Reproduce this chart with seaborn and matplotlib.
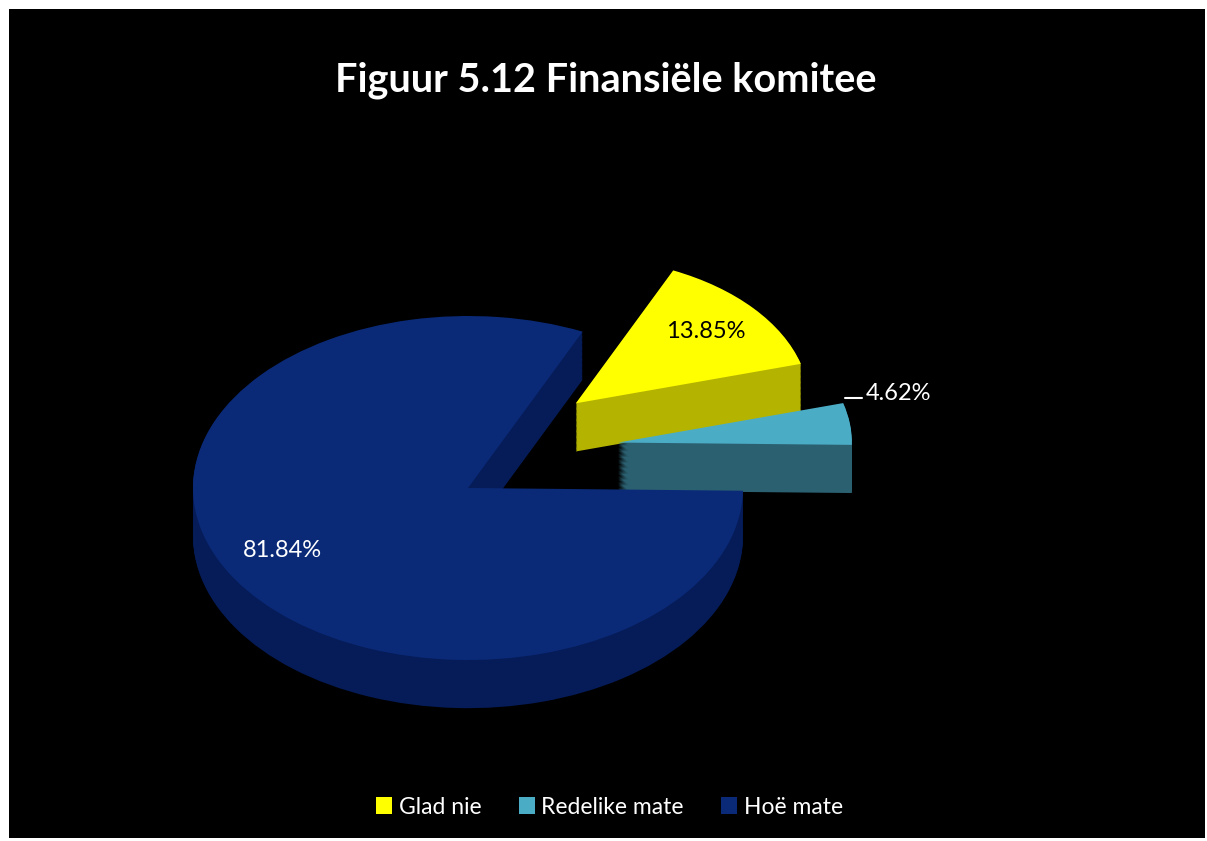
import numpy as np
import seaborn as sns
import matplotlib.pyplot as plt
from matplotlib.patches import Rectangle, Patch

# data
labels = ['Glad nie', 'Redelike mate', 'Hoë mate']
values = [13.85, 4.62, 81.84]
label_texts = ['13.85%', '4.62%', '81.84%']
explode = [0.45, 0.50, 0.0]

top_colors = ['#FFFF00', '#4BACC6', '#0A2A78']
side_colors = ['#B4B400', '#2B6070', '#061C58']

sns.set_style('dark')
plt.rcParams['font.family'] = ['Lato', 'DejaVu Sans']

fig = plt.figure(figsize=(12.07, 8.41), dpi=100)
fig.patch.set_facecolor('white')
fig.patches.append(Rectangle((9 / 1207, 3 / 841), 1196 / 1207, 829 / 841,
                             transform=fig.transFigure, facecolor='black',
                             edgecolor='none', zorder=-5))

ax = fig.add_axes([0, 0, 1, 1])
ax.set_facecolor('none')

# first wedge goes clockwise from here, so the big slice starts at 0 deg
start = 360 * (1 - values[2] / 100)
depth = 0.28
pal_top = sns.color_palette(top_colors)
pal_side = sns.color_palette(side_colors)


def draw_layer(colors, dy, z_small, z_big):
    # big slice sits in front (near), the exploded small ones further back
    # and a bit smaller for a perspective look
    big, _ = ax.pie(values, colors=colors, startangle=start, counterclock=False,
                    center=(0, dy), radius=1.0, normalize=True,
                    wedgeprops=dict(linewidth=0))
    small, _ = ax.pie(values, explode=explode, colors=colors, startangle=start,
                      counterclock=False, center=(0.05, 0.2 + dy), radius=0.85,
                      normalize=True, wedgeprops=dict(linewidth=0))
    for i in range(3):
        big[i].set_visible(i == 2)
        small[i].set_visible(i != 2)
        big[i].set_zorder(z_big)
        small[i].set_zorder(z_small)


for k in np.linspace(depth, 0.005, 40):
    draw_layer(pal_side, -k, 2, 12)
draw_layer(pal_top, 0, 4, 14)

# percentage labels
ax.text(0.865, 0.907, label_texts[0], ha='center', va='center', fontsize=17,
        color='black', zorder=20)
ax.plot([1.371, 1.433], [0.523, 0.523], color='white', lw=1.5, zorder=20)
ax.text(1.447, 0.552, label_texts[1], ha='left', va='center', fontsize=17,
        color='white', zorder=20)
ax.text(-0.673, -0.366, label_texts[2], ha='center', va='center', fontsize=17,
        color='white', zorder=20)

# map data units to pixels: rx = 275 px, ry = 172 px, centre at (468, 488)
cx, cy, rx, ry = 468, 488, 275, 172
ax.set_aspect('auto')
ax.set_xlim(-cx / rx, (1207 - cx) / rx)
ax.set_ylim(-(841 - cy) / ry, cy / ry)
ax.axis('off')

fig.text(0.502, 1 - 80 / 841, 'Figuur 5.12 Finansiële komitee', ha='center',
         va='center', fontsize=28.5, fontweight='bold', color='white')

handles = [Patch(facecolor=c, edgecolor='none') for c in top_colors]
leg = fig.legend(handles, labels, loc='center', bbox_to_anchor=(0.505, 1 - 807 / 841),
                 ncol=3, frameon=False, fontsize=16.5, handlelength=0.7,
                 handleheight=0.7, handletextpad=0.3, columnspacing=1.6)
for t in leg.get_texts():
    t.set_color('white')

fig.savefig('out.png', dpi=100, facecolor=fig.get_facecolor())
